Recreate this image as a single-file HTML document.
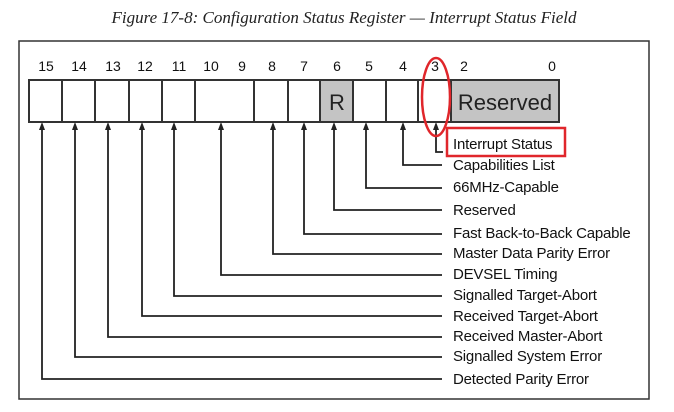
<!DOCTYPE html>
<html><head><style>
body{margin:0;background:#fff;width:674px;height:412px;overflow:hidden}
svg{display:block}
text{font-family:"Liberation Sans",Arial,sans-serif;}
</style></head><body>
<svg width="674" height="412" viewBox="0 0 674 412">
<text x="344" y="23" text-anchor="middle" font-style="italic" font-size="17" fill="#222" style="font-family:'Liberation Serif',serif">Figure 17-8: Configuration Status Register — Interrupt Status Field</text>
<rect x="19" y="41" width="630" height="358" fill="none" stroke="#333" stroke-width="1.5"/>
<g font-size="14" fill="#111" text-anchor="middle">
<text x="46" y="71">15</text><text x="79" y="71">14</text><text x="113" y="71">13</text><text x="145" y="71">12</text><text x="179" y="71">11</text><text x="211" y="71">10</text><text x="242" y="71">9</text><text x="272" y="71">8</text><text x="304" y="71">7</text><text x="337" y="71">6</text><text x="369" y="71">5</text><text x="403" y="71">4</text><text x="435" y="71">3</text><text x="464" y="71">2</text><text x="552" y="71">0</text>
</g>
<rect x="320" y="80" width="33" height="42" fill="#c4c4c4"/>
<rect x="451" y="80" width="108" height="42" fill="#c4c4c4"/>
<g stroke="#333" stroke-width="2" fill="none">
<rect x="29" y="80" width="530" height="42"/>
<path d="M62 80V122M95 80V122M129 80V122M162 80V122M195 80V122M254 80V122M288 80V122M320 80V122M353 80V122M386 80V122M418 80V122M451 80V122"/>
</g>
<text x="337" y="110" font-size="22" text-anchor="middle" fill="#222">R</text>
<text x="505" y="110" font-size="22" text-anchor="middle" fill="#222">Reserved</text>
<g stroke="#222" stroke-width="1.8" fill="none">
<path d="M436 126V152H443"/>
<path d="M403 126V165H442"/>
<path d="M366 126V188H442"/>
<path d="M334 126V210H442"/>
<path d="M304 126V234H442"/>
<path d="M273 126V254H442"/>
<path d="M221 126V275H442"/>
<path d="M174 126V296H442"/>
<path d="M142 126V316H442"/>
<path d="M108 126V337H442"/>
<path d="M75 126V357H442"/>
<path d="M42 126V379H442"/>
</g>
<g fill="#222">
<path d="M436 122l-3 8h6z"/><path d="M403 122l-3 8h6z"/><path d="M366 122l-3 8h6z"/><path d="M334 122l-3 8h6z"/><path d="M304 122l-3 8h6z"/><path d="M273 122l-3 8h6z"/><path d="M221 122l-3 8h6z"/><path d="M174 122l-3 8h6z"/><path d="M142 122l-3 8h6z"/><path d="M108 122l-3 8h6z"/><path d="M75 122l-3 8h6z"/><path d="M42 122l-3 8h6z"/>
</g>
<g font-size="15" fill="#111" style="letter-spacing:-0.2px">
<text x="453" y="149">Interrupt Status</text>
<text x="453" y="170">Capabilities List</text>
<text x="453" y="192">66MHz-Capable</text>
<text x="453" y="215">Reserved</text>
<text x="453" y="238">Fast Back-to-Back Capable</text>
<text x="453" y="258">Master Data Parity Error</text>
<text x="453" y="279">DEVSEL Timing</text>
<text x="453" y="300">Signalled Target-Abort</text>
<text x="453" y="321">Received Target-Abort</text>
<text x="453" y="341">Received Master-Abort</text>
<text x="453" y="361">Signalled System Error</text>
<text x="453" y="384">Detected Parity Error</text>
</g>
<rect x="447" y="128" width="118" height="28" fill="none" stroke="#e0262b" stroke-width="2.5"/>
<ellipse cx="436" cy="97" rx="14" ry="39" fill="none" stroke="#e0262b" stroke-width="2.5"/>
</svg>
</body></html>
